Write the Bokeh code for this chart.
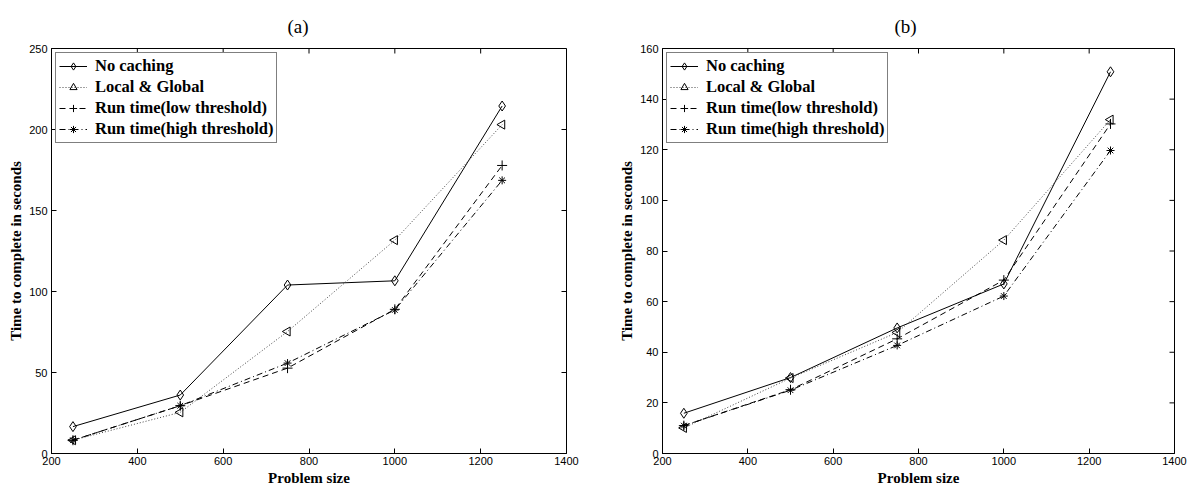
import numpy as np
from bokeh.plotting import figure
from bokeh.layouts import row
from bokeh.models import FixedTicker, Range1d, Title, Legend, LegendItem
from bokeh.embed import file_html
from bokeh.resources import INLINE

sizes = [250, 500, 750, 1000, 1250]
series_names = ["No caching", "Local & Global", "Run time(low threshold)", "Run time(high threshold)"]

a_no_caching = [16.6, 36.1, 104.0, 106.6, 214.5]
a_local_global = [8.2, 25.4, 75.3, 131.7, 203.0]
a_low_thr = [8.2, 29.5, 52.7, 89.0, 177.8]
a_high_thr = [8.2, 29.5, 55.8, 88.6, 168.6]

b_no_caching = [15.9, 30.0, 49.6, 67.0, 150.8]
b_local_global = [10.1, 29.8, 47.8, 84.3, 131.9]
b_low_thr = [11.0, 25.2, 45.3, 68.5, 130.2]
b_high_thr = [11.0, 25.0, 42.7, 62.2, 119.7]

x_ticks = [200, 400, 600, 800, 1000, 1200, 1400]
a_y_ticks = [0, 50, 100, 150, 200, 250]
b_y_ticks = [0, 20, 40, 60, 80, 100, 120, 140, 160]

SERIF = "Liberation Serif"
SANS = "Liberation Sans"

styles = [
    dict(dash="solid", marker="diamond", msize=10, angle=0.0, color="black"),
    dict(dash="1 2", marker="triangle", msize=9, angle=np.pi / 2, color="#444444"),
    dict(dash="6 4", marker="cross", msize=10, angle=0.0, color="black"),
    dict(dash="6 3 1 3", marker="asterisk", msize=8, angle=0.0, color="black"),
]


def style_axis(ax, ticks):
    ax.ticker = FixedTicker(ticks=ticks)
    ax.axis_line_color = "black"
    ax.axis_line_width = 1
    ax.major_tick_in = 5
    ax.major_tick_out = 0
    ax.major_tick_line_color = "black"
    ax.minor_tick_line_color = None
    ax.major_label_text_font = SANS
    ax.major_label_text_font_size = "11px"
    ax.major_label_text_color = "black"
    ax.major_label_standoff = 4
    ax.axis_label_text_font = SERIF
    ax.axis_label_text_font_size = "15px"
    ax.axis_label_text_font_style = "bold"
    ax.axis_label_text_color = "black"


def make_panel(title, data, ymax, yticks, width, border_left, border_right, title_offset):
    p = figure(width=width, height=489, output_backend="svg", toolbar_location=None,
               x_range=Range1d(200, 1400), y_range=Range1d(0, ymax),
               min_border_left=border_left, min_border_right=border_right,
               min_border_top=48, min_border_bottom=36)
    p.title = Title(text=title, align="left", offset=title_offset, vertical_align="middle",
                    text_font=SERIF, text_font_size="19px", text_font_style="normal",
                    text_color="black", standoff=22)
    p.xgrid.visible = False
    p.ygrid.visible = False
    p.outline_line_color = "black"
    p.outline_line_width = 1
    p.background_fill_color = "white"
    p.border_fill_color = "white"
    p.xaxis.axis_label = "Problem size"
    p.yaxis.axis_label = "Time to complete in seconds"
    for ax in p.xaxis:
        style_axis(ax, x_ticks)
        ax.major_label_standoff = 3
        ax.axis_label_standoff = 2
    for ax in p.yaxis:
        style_axis(ax, yticks)
        ax.axis_label_standoff = 2

    x1 = p.x_range.end
    y1 = p.y_range.end

    # tick marks on the top and right edges of the box (MATLAB style)
    p.ray(x=x_ticks, y=[y1] * len(x_ticks), length=5, length_units="screen",
          angle=-np.pi / 2, line_color="black", line_width=1)
    p.ray(x=[x1] * len(yticks), y=yticks, length=5, length_units="screen",
          angle=np.pi, line_color="black", line_width=1)

    items = []
    for name, ys, st in zip(series_names, data, styles):
        l = p.line(sizes, ys, line_color=st["color"], line_width=1, line_dash=st["dash"])
        m = p.scatter(x=sizes, y=ys, marker=st["marker"], size=st["msize"],
                      angle=[st["angle"]] * len(sizes),
                      line_color="black", line_width=1, fill_color=None)
        items.append(LegendItem(label=name, renderers=[l, m]))
    leg = Legend(items=items, location="top_left")
    leg.label_text_font = SERIF
    leg.label_text_font_size = "16.5px"
    leg.label_text_font_style = "bold"
    leg.label_text_color = "black"
    leg.border_line_color = "black"
    leg.border_line_width = 1
    leg.background_fill_alpha = 1.0
    leg.glyph_width = 28
    leg.glyph_height = 18
    leg.label_height = 18
    leg.label_standoff = 8
    leg.spacing = 1
    leg.padding = 3
    leg.margin = 4
    p.add_layout(leg)
    return p


p1 = make_panel("(a)", [a_no_caching, a_local_global, a_low_thr, a_high_thr], 250, a_y_ticks, 616, 51, 50, 236)
p2 = make_panel("(b)", [b_no_caching, b_local_global, b_low_thr, b_high_thr], 160, b_y_ticks, 573, 43, 15, 232)

layout = row(p1, p2)
open("out.html", "w").write(file_html(layout, INLINE))
